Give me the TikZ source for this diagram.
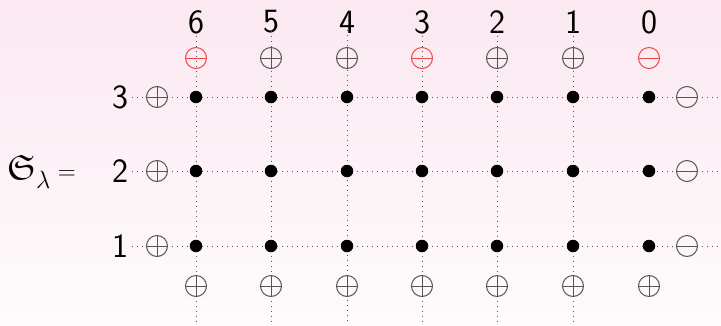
\documentclass[tikz,border=0pt]{standalone}
\usepackage{amssymb}
\definecolor{bgtop}{RGB}{251,232,241}
\definecolor{bgbot}{RGB}{253,251,252}
\definecolor{symgray}{RGB}{85,85,85}
\definecolor{symred}{RGB}{240,70,70}
\tikzset{
  gridline/.style={symgray, line width=1pt, dash pattern=on 1pt off 4pt},
  dotnode/.style={circle, fill=black, inner sep=0pt, minimum size=12.5pt},
  plusnode/.style={circle, draw=symgray, line width=1pt, inner sep=0pt, minimum size=21pt, fill=none,
    path picture={\draw[symgray, line width=1pt] (path picture bounding box.west) -- (path picture bounding box.east)
      (path picture bounding box.north) -- (path picture bounding box.south);}},
  minusnode/.style={circle, draw=#1, line width=1pt, inner sep=0pt, minimum size=21pt,
    path picture={\draw[#1, line width=1pt] (path picture bounding box.west) -- (path picture bounding box.east);}},
  numlabel/.style={font=\sffamily\fontsize{34}{40}\selectfont, inner sep=0pt},
}
\begin{document}
\begin{tikzpicture}[x=1pt, y=-1pt]
\shade[top color=bgtop, bottom color=bgbot] (0,0) rectangle (721,325);
\useasboundingbox (0,0) rectangle (721,325);
% columns
\foreach \i/\x in {6/196, 5/271, 4/347, 3/422, 2/497, 1/573, 0/649} {
  \node[numlabel] (top\i) at (\x,22) {\i};
  \coordinate (bot\i) at (\x,325);
}
\foreach \i in {6,5,4,3,2,1} {
  \draw[gridline] (top\i.south) ++(0,-3) -- (bot\i);
}
% rows
\foreach \r/\y in {3/97, 2/171, 1/246} {
  \node[numlabel] (row\r) at (120,\y) {\r};
  \coordinate (end\r) at (721,\y);
  \draw[gridline] (row\r.east) ++(4,0) -- (end\r);
}
% top symbols
\foreach \i/\x in {5/271, 4/347, 2/497, 1/573} {
  \node[plusnode, fill=none] (ts\i) at (\x,58) {};
}
\foreach \i/\x in {6/196, 3/422, 0/649} {
  \node[minusnode=symred] (ts\i) at (\x,58) {};
}
% bottom symbols
\foreach \i/\x in {6/196, 5/271, 4/347, 3/422, 2/497, 1/573, 0/649} {
  \node[plusnode] (bs\i) at (\x,286) {};
}
% left and right symbols
\foreach \r/\y in {3/97, 2/171, 1/246} {
  \node[plusnode] (ls\r) at (157,\y) {};
  \node[minusnode=symgray] (rs\r) at (687,\y) {};
}
% dots
\foreach \r/\y in {3/97, 2/171, 1/246} {
  \foreach \i/\x in {6/196, 5/271, 4/347, 3/422, 2/497, 1/573, 0/649} {
    \node[dotnode] (d\r\i) at (\x,\y) {};
  }
}
% label
\node[font=\fontsize{35}{40}\selectfont, inner sep=0pt, anchor=west] (lab) at (7,172) {$\mathfrak{S}_\lambda =$};
\end{tikzpicture}
\end{document}
